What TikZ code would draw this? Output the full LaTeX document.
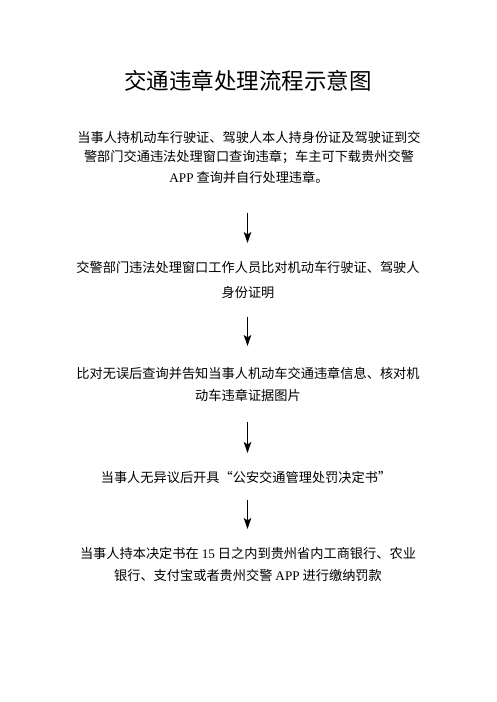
\documentclass[tikz,border=0pt]{standalone}
\usepackage{fontspec}
\setmainfont{Noto Sans CJK SC}
\newfontfamily\lat{Liberation Serif}
\usetikzlibrary{arrows.meta}
\tikzset{
  txt/.style={inner sep=0pt, anchor=center, font=\fontsize{13.2pt}{15pt}\selectfont},
  ttl/.style={inner sep=0pt, anchor=center, font=\fontsize{22.5pt}{26pt}\selectfont},
  arr/.style={line width=1.6pt, -{Stealth[length=11pt,width=7.5pt,inset=2.5pt]}}
}
\begin{document}
\begin{tikzpicture}[x=1pt,y=-1pt]
\useasboundingbox (0,0) rectangle (496,702);
\fill[white] (0,0) rectangle (496,702);
\node[ttl] (title) at (248,81) {交通违章处理流程示意图};
\node[txt] (b1l1) at (249,137) {当事人持机动车行驶证、驾驶人本人持身份证及驾驶证到交};
\node[txt] (b1l2) at (249,157) {警部门交通违法处理窗口查询违章；车主可下载贵州交警};
\node[txt] (b1l3) at (249,177) {{\lat APP} 查询并自行处理违章。};
\node[txt] (b2l1) at (248,267) {交警部门违法处理窗口工作人员比对机动车行驶证、驾驶人};
\node[txt] (b2l2) at (248,293) {身份证明};
\node[txt] (b3l1) at (248,373) {比对无误后查询并告知当事人机动车交通违章信息、核对机};
\node[txt] (b3l2) at (248,395) {动车违章证据图片};
\node[txt] (b4l1) at (246,477) {当事人无异议后开具“公安交通管理处罚决定书”};
\node[txt] (b5l1) at (248,553) {当事人持本决定书在 {\lat 15} 日之内到贵州省内工商银行、农业};
\node[txt] (b5l2) at (248,575) {银行、支付宝或者贵州交警 {\lat APP} 进行缴纳罚款};
\coordinate (a1s) at (247.5,213); \coordinate (a1e) at (247.5,243);
\coordinate (a2s) at (247.5,317); \coordinate (a2e) at (247.5,346);
\coordinate (a3s) at (247.5,422); \coordinate (a3e) at (247.5,453);
\coordinate (a4s) at (247.5,500); \coordinate (a4e) at (247.5,529);
\draw[arr] (a1s) -- (a1e);
\draw[arr] (a2s) -- (a2e);
\draw[arr] (a3s) -- (a3e);
\draw[arr] (a4s) -- (a4e);
\end{tikzpicture}
\end{document}
